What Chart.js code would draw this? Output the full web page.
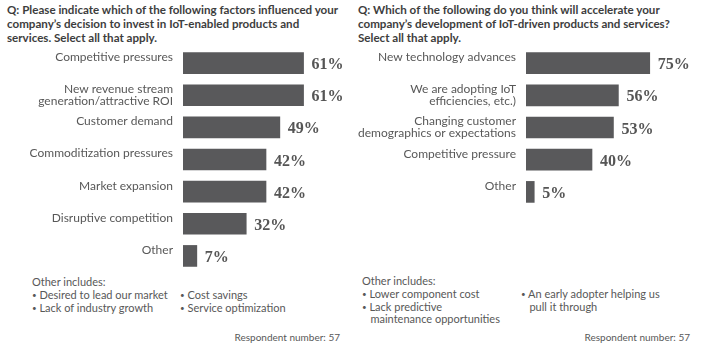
<!DOCTYPE html>
<html lang="en">
<head>
<meta charset="UTF-8">
<title>IoT survey bars</title>
<script src="https://cdn.jsdelivr.net/npm/chart.js"></script>
<style>
    body { margin: 0; width: 702px; height: 345px; position: relative; background: #fff; overflow: hidden;
           font-family: Lato, "Open Sans", sans-serif; color: #585858; }
    .q { position: absolute; top: 3px; font-weight: bold; font-size: 11.6px; line-height: 13.8px; color: #3d3d3d; white-space: nowrap; }
    .box { position: absolute; top: 47px; width: 351px; }
    .note { position: absolute; font-size: 11px; line-height: 12.8px; white-space: nowrap; }
    .b { font-size: 8px; vertical-align: 1px; }
    .resp { position: absolute; top: 331px; font-size: 10px; }
</style>
</head>
<body>
    <div class="q" style="left:7px">Q: Please indicate which of the following factors influenced your<br>company’s decision to invest in IoT-enabled products and<br>services. Select all that apply.</div>
    <div class="q" style="left:358px">Q: Which of the following do you think will accelerate your<br>company’s development of IoT-driven products and services?<br>Select all that apply.</div>

    <div class="box" style="left:0; height:225px"><canvas id="leftChart"></canvas></div>
    <div class="box" style="left:351px; height:161px"><canvas id="rightChart"></canvas></div>

    <div class="note" style="left:32px; top:276px">Other includes:<br><span class="b">•</span> Desired to lead our market<br><span class="b">•</span> Lack of industry growth</div>
    <div class="note" style="left:180px; top:289px"><span class="b">•</span> Cost savings<br><span class="b">•</span> Service optimization</div>
    <div class="note" style="left:362px; top:275px">Other includes:<br><span class="b">•</span> Lower component cost<br><span class="b">•</span> Lack predictive<br>&nbsp;&nbsp;&nbsp;maintenance opportunities</div>
    <div class="note" style="left:521px; top:288px"><span class="b">•</span> An early adopter helping us<br>&nbsp;&nbsp;&nbsp;pull it through</div>
    <div class="resp" style="right:362px">Respondent number: 57</div>
    <div class="resp" style="right:12px">Respondent number: 57</div>

<script>
    // Left panel: factors that influenced the decision to invest
    const factorLabels = ['Competitive pressures', 'New revenue stream\ngeneration/attractive ROI', 'Customer demand',
        'Commoditization pressures', 'Market expansion', 'Disruptive competition', 'Other'];
    const factorValues = [61, 61, 49, 42, 42, 32, 7];

    // Right panel: what will accelerate development
    const accelLabels = ['New technology advances', 'We are adopting IoT\nefficiencies, etc.)',
        'Changing customer\ndemographics or expectations', 'Competitive pressure', 'Other'];
    const accelValues = [75, 56, 53, 40, 5];

    const barColor = '#59595b';

    // single line labels sit a bit high in the original, so pad them to two lines
    function splitLabel(s) {
        const parts = s.split('\n');
        return parts.length > 1 ? parts : [parts[0], ''];
    }

    const valueLabels = {
        id: 'valueLabels',
        afterDatasetsDraw(chart) {
            const ctx = chart.ctx;
            const meta = chart.getDatasetMeta(0);
            ctx.save();
            ctx.font = 'bold 16px "Liberation Serif", serif';
            ctx.fillStyle = '#555';
            ctx.textBaseline = 'middle';
            meta.data.forEach((bar, i) => {
                ctx.fillText(chart.data.datasets[0].data[i] + '%', bar.x + 8, bar.y + 2);
            });
            ctx.restore();
        }
    };

    function makeChart(id, labels, values, axisWidth, maxVal, padRight) {
        return new Chart(document.getElementById(id), {
            type: 'bar',
            data: {
                labels: labels.map(splitLabel),
                datasets: [{
                    data: values,
                    backgroundColor: barColor,
                    barThickness: 21,
                    categoryPercentage: 1
                }]
            },
            options: {
                indexAxis: 'y',
                responsive: true,
                maintainAspectRatio: false,
                animation: false,
                layout: { padding: { left: 0, right: padRight, top: 0, bottom: 0 } },
                plugins: { legend: { display: false }, tooltip: { enabled: false } },
                scales: {
                    x: { display: false, min: 0, max: maxVal },
                    y: {
                        grid: { display: false, drawTicks: false },
                        border: { display: false },
                        ticks: {
                            padding: 10,
                            color: '#585858',
                            font: { family: 'Lato, "Open Sans", sans-serif', size: 12, lineHeight: 1.0 }
                        },
                        afterFit(scale) {
                            scale.width = axisWidth;
                            // keep the rows filling the whole box
                            scale.paddingTop = 0;
                            scale.paddingBottom = 0;
                        }
                    }
                }
            },
            plugins: [valueLabels]
        });
    }

    document.addEventListener('DOMContentLoaded', function () {
        makeChart('leftChart', factorLabels, factorValues, 183, 85, 0);
        makeChart('rightChart', accelLabels, accelValues, 175, 100, 11);
    });
</script>
</body>
</html>
